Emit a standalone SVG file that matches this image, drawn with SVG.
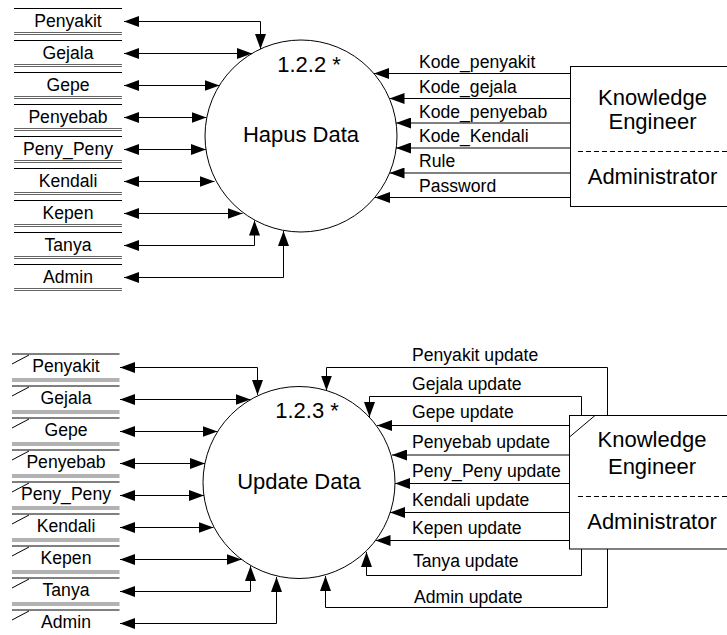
<svg xmlns="http://www.w3.org/2000/svg" width="727" height="635" viewBox="0 0 727 635">
<defs>
<style>
text{font-family:"Liberation Sans",Arial,sans-serif;fill:#000}
.lbl{font-size:17.6px}
.st{font-size:17.6px;text-anchor:middle}
.big{font-size:22px;text-anchor:middle}
.ln{fill:none;stroke:#000;stroke-width:1}
.dbl{stroke:#666;stroke-width:1}
.fl{fill:none;stroke:#000;stroke-width:1;marker-end:url(#ah)}
.bi{fill:none;stroke:#000;stroke-width:1;marker-start:url(#ah);marker-end:url(#ah)}
.dash{stroke:#000;stroke-width:1;stroke-dasharray:5 3}
</style>
<marker id="ah" markerUnits="userSpaceOnUse" markerWidth="16" markerHeight="11" viewBox="0 0 16 11" refX="15" refY="5.5" orient="auto-start-reverse">
<path d="M0,0 L15,5.5 L0,11 z" fill="#000"/>
</marker>
</defs>
<rect width="727" height="635" fill="#fff"/>

<!-- Top section: data stores -->
<g id="stores-top">
<g id="s1-penyakit"><line class="ln" x1="14" y1="8.5" x2="122" y2="8.5"/><line class="dbl" x1="14" y1="32.5" x2="122" y2="32.5"/><line class="dbl" x1="14" y1="34.5" x2="122" y2="34.5"/><text class="st" x="68" y="26.5">Penyakit</text></g>
<g id="s1-gejala"><line class="ln" x1="14" y1="40.5" x2="122" y2="40.5"/><line class="dbl" x1="14" y1="64.5" x2="122" y2="64.5"/><line class="dbl" x1="14" y1="66.5" x2="122" y2="66.5"/><text class="st" x="68" y="58.5">Gejala</text></g>
<g id="s1-gepe"><line class="ln" x1="14" y1="72.5" x2="122" y2="72.5"/><line class="dbl" x1="14" y1="96.5" x2="122" y2="96.5"/><line class="dbl" x1="14" y1="98.5" x2="122" y2="98.5"/><text class="st" x="68" y="90.5">Gepe</text></g>
<g id="s1-penyebab"><line class="ln" x1="14" y1="104.5" x2="122" y2="104.5"/><line class="dbl" x1="14" y1="128.5" x2="122" y2="128.5"/><line class="dbl" x1="14" y1="130.5" x2="122" y2="130.5"/><text class="st" x="68" y="122.5">Penyebab</text></g>
<g id="s1-penypeny"><line class="ln" x1="14" y1="136.5" x2="122" y2="136.5"/><line class="dbl" x1="14" y1="160.5" x2="122" y2="160.5"/><line class="dbl" x1="14" y1="162.5" x2="122" y2="162.5"/><text class="st" x="68" y="154.5">Peny_Peny</text></g>
<g id="s1-kendali"><line class="ln" x1="14" y1="168.5" x2="122" y2="168.5"/><line class="dbl" x1="14" y1="192.5" x2="122" y2="192.5"/><line class="dbl" x1="14" y1="194.5" x2="122" y2="194.5"/><text class="st" x="68" y="186.5">Kendali</text></g>
<g id="s1-kepen"><line class="ln" x1="14" y1="200.5" x2="122" y2="200.5"/><line class="dbl" x1="14" y1="224.5" x2="122" y2="224.5"/><line class="dbl" x1="14" y1="226.5" x2="122" y2="226.5"/><text class="st" x="68" y="218.5">Kepen</text></g>
<g id="s1-tanya"><line class="ln" x1="14" y1="232.5" x2="122" y2="232.5"/><line class="dbl" x1="14" y1="256.5" x2="122" y2="256.5"/><line class="dbl" x1="14" y1="258.5" x2="122" y2="258.5"/><text class="st" x="68" y="250.5">Tanya</text></g>
<g id="s1-admin"><line class="ln" x1="14" y1="264.5" x2="122" y2="264.5"/><line class="dbl" x1="14" y1="288.5" x2="122" y2="288.5"/><line class="dbl" x1="14" y1="290.5" x2="122" y2="290.5"/><text class="st" x="68" y="282.5">Admin</text></g>
</g>

<g id="p122">
<circle class="ln" cx="301" cy="136" r="96"/>
<text class="big" x="309" y="72">1.2.2 *</text>
<text class="big" x="301" y="142">Hapus Data</text>
</g>

<g id="ke-top">
<rect class="ln" x="570.5" y="66.5" width="170" height="140"/>
<line class="dash" x1="578" y1="151.5" x2="727" y2="151.5"/>
<text class="big" x="652.5" y="104.5">Knowledge</text>
<text class="big" x="652.5" y="129">Engineer</text>
<text class="big" x="652.5" y="183.5">Administrator</text>
</g>

<g id="connectors-top">
<path class="bi" d="M124,21.5 H260.5 V49"/>
<path class="bi" d="M124,53.5 H252"/>
<path class="bi" d="M124,85.5 H219.5"/>
<path class="bi" d="M124,117.5 H206.5"/>
<path class="bi" d="M124,149.5 H206"/>
<path class="bi" d="M124,181.5 H214.5"/>
<path class="bi" d="M124,213.5 H242.5"/>
<path class="bi" d="M124,245.5 H254.5 V220.5"/>
<path class="bi" d="M124,277.5 H283.5 V231"/>
<path class="fl" d="M570,73.5 H374"/>
<path class="fl" d="M570,98.5 H389.5"/>
<path class="fl" d="M570,123 H396"/>
<path class="fl" d="M570,148 H396"/>
<path class="fl" d="M570,173 H389.5"/>
<path class="fl" d="M570,197.5 H375"/>
<text class="lbl" x="419" y="68">Kode_penyakit</text>
<text class="lbl" x="419" y="92.5">Kode_gejala</text>
<text class="lbl" x="419" y="117.5">Kode_penyebab</text>
<text class="lbl" x="419" y="142">Kode_Kendali</text>
<text class="lbl" x="419" y="167">Rule</text>
<text class="lbl" x="419" y="191.5">Password</text>
</g>

<!-- Bottom section: data stores -->
<g id="stores-bottom">
<g id="s2-penyakit"><line class="ln" x1="12" y1="354" x2="119.5" y2="354"/><line class="ln" x1="12" y1="364" x2="29" y2="355"/><line class="dbl" x1="12" y1="379" x2="119.5" y2="379"/><line class="dbl" x1="12" y1="381" x2="119.5" y2="381"/><text class="st" x="66" y="372">Penyakit</text></g>
<g id="s2-gejala"><line class="ln" x1="12" y1="386" x2="119.5" y2="386"/><line class="ln" x1="12" y1="396" x2="29" y2="387"/><line class="dbl" x1="12" y1="411" x2="119.5" y2="411"/><line class="dbl" x1="12" y1="413" x2="119.5" y2="413"/><text class="st" x="66" y="404">Gejala</text></g>
<g id="s2-gepe"><line class="ln" x1="12" y1="418" x2="119.5" y2="418"/><line class="ln" x1="12" y1="428" x2="29" y2="419"/><line class="dbl" x1="12" y1="443" x2="119.5" y2="443"/><line class="dbl" x1="12" y1="445" x2="119.5" y2="445"/><text class="st" x="66" y="436">Gepe</text></g>
<g id="s2-penyebab"><line class="ln" x1="12" y1="450" x2="119.5" y2="450"/><line class="ln" x1="12" y1="460" x2="29" y2="451"/><line class="dbl" x1="12" y1="475" x2="119.5" y2="475"/><line class="dbl" x1="12" y1="477" x2="119.5" y2="477"/><text class="st" x="66" y="468">Penyebab</text></g>
<g id="s2-penypeny"><line class="ln" x1="12" y1="482" x2="119.5" y2="482"/><line class="ln" x1="12" y1="492" x2="29" y2="483"/><line class="dbl" x1="12" y1="507" x2="119.5" y2="507"/><line class="dbl" x1="12" y1="509" x2="119.5" y2="509"/><text class="st" x="66" y="500">Peny_Peny</text></g>
<g id="s2-kendali"><line class="ln" x1="12" y1="514" x2="119.5" y2="514"/><line class="ln" x1="12" y1="524" x2="29" y2="515"/><line class="dbl" x1="12" y1="539" x2="119.5" y2="539"/><line class="dbl" x1="12" y1="541" x2="119.5" y2="541"/><text class="st" x="66" y="532">Kendali</text></g>
<g id="s2-kepen"><line class="ln" x1="12" y1="546" x2="119.5" y2="546"/><line class="ln" x1="12" y1="556" x2="29" y2="547"/><line class="dbl" x1="12" y1="571" x2="119.5" y2="571"/><line class="dbl" x1="12" y1="573" x2="119.5" y2="573"/><text class="st" x="66" y="564">Kepen</text></g>
<g id="s2-tanya"><line class="ln" x1="12" y1="578" x2="119.5" y2="578"/><line class="ln" x1="12" y1="588" x2="29" y2="579"/><line class="dbl" x1="12" y1="603" x2="119.5" y2="603"/><line class="dbl" x1="12" y1="605" x2="119.5" y2="605"/><text class="st" x="66" y="596">Tanya</text></g>
<g id="s2-admin"><line class="ln" x1="12" y1="610" x2="119.5" y2="610"/><line class="ln" x1="12" y1="620" x2="29" y2="611"/><text class="st" x="66" y="628">Admin</text></g>
</g>

<g id="p123">
<circle class="ln" cx="299" cy="482.5" r="96"/>
<text class="big" x="307" y="418">1.2.3 *</text>
<text class="big" x="299" y="488.5">Update Data</text>
</g>

<g id="ke-bottom">
<rect class="ln" x="569.5" y="415.5" width="170" height="133.5"/>
<line class="ln" x1="569.5" y1="437" x2="595" y2="415.5"/>
<line class="dash" x1="578" y1="496.5" x2="727" y2="496.5"/>
<text class="big" x="652" y="446.5">Knowledge</text>
<text class="big" x="652" y="474">Engineer</text>
<text class="big" x="652" y="529">Administrator</text>
</g>

<g id="connectors-bottom">
<path class="bi" d="M120,367.5 H257.5 V395"/>
<path class="bi" d="M120,399.5 H250.5"/>
<path class="bi" d="M120,431.5 H217.5"/>
<path class="bi" d="M120,463.5 H205"/>
<path class="bi" d="M120,495.5 H204"/>
<path class="bi" d="M120,527.5 H213.5"/>
<path class="bi" d="M120,559.5 H241.5"/>
<path class="bi" d="M120,591.5 H250.5 V566"/>
<path class="bi" d="M120,623.5 H276.5 V577"/>
<path class="fl" d="M607.5,415.5 V367.5 H326.5 V390.5"/>
<path class="fl" d="M581.5,415.5 V396.5 H369.5 V417"/>
<path class="fl" d="M569.5,425.5 H377"/>
<path class="fl" d="M569.5,455 H392"/>
<path class="fl" d="M569.5,483.5 H395"/>
<path class="fl" d="M569.5,512.5 H390"/>
<path class="fl" d="M569.5,540.5 H375.5"/>
<path class="fl" d="M581.5,549 V575.5 H366.5 V552"/>
<path class="fl" d="M607.5,549 V607.5 H325.5 V576"/>
<text class="lbl" x="412" y="360.5">Penyakit update</text>
<text class="lbl" x="412" y="390">Gejala update</text>
<text class="lbl" x="412" y="418">Gepe update</text>
<text class="lbl" x="412" y="448">Penyebab update</text>
<text class="lbl" x="412" y="477">Peny_Peny update</text>
<text class="lbl" x="412" y="506">Kendali update</text>
<text class="lbl" x="412" y="534">Kepen update</text>
<text class="lbl" x="413" y="567">Tanya update</text>
<text class="lbl" x="414" y="603">Admin update</text>
</g>
</svg>
